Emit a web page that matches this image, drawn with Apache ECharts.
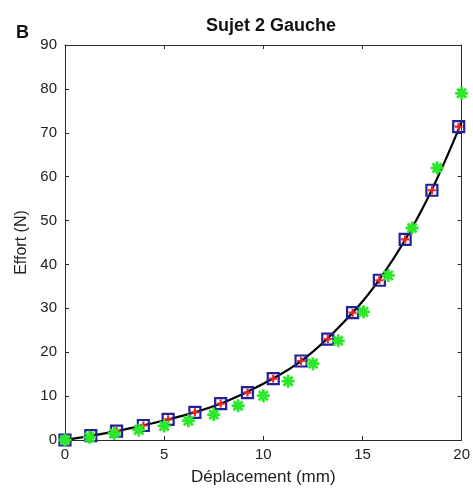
<!DOCTYPE html>
<html>
<head>
<meta charset="utf-8">
<script src="https://cdn.jsdelivr.net/npm/echarts@6/dist/echarts.min.js"></script>
<style>
html,body{margin:0;padding:0;background:#fff;}
#c{width:473px;height:491px;}
</style>
</head>
<body>
<div id="c"></div>
<script>
var xTicks = [0, 5, 10, 15, 20];
var yTicks = [0, 10, 20, 30, 40, 50, 60, 70, 80, 90];

var squareX = [0, 1.3, 2.6, 3.95, 5.2, 6.55, 7.85, 9.2, 10.5, 11.9, 13.25, 14.5, 15.85, 17.15, 18.5, 19.85];
var squareY = [0, 1.0, 2.0, 3.3, 4.7, 6.3, 8.3, 10.8, 14, 18, 23, 29, 36.4, 45.7, 56.9, 71.4];

var greenX = [0, 1.24, 2.48, 3.72, 5.0, 6.22, 7.5, 8.73, 10.0, 11.25, 12.5, 13.78, 15.05, 16.3, 17.5, 18.76, 20];
var greenY = [0, 0.6, 1.5, 2.3, 3.2, 4.4, 5.8, 7.8, 10.1, 13.4, 17.4, 22.6, 29.2, 37.5, 48.3, 62, 79];

var curveX = [0, 2, 4, 6, 8, 10, 12, 14, 16, 18, 20];
var curveY = [0, 1.5, 3.4, 5.6, 8.55, 12.8, 18.3, 26.6, 37.5, 52.5, 72.5];

function pairs(xs, ys) { return xs.map(function (x, i) { return [x, ys[i]]; }); }

var FONT = '"Liberation Sans", Arial, sans-serif';
var AX = '#2a2a2a';

var chart = echarts.init(document.getElementById('c'), null, {renderer: 'canvas'});
var baseX = {
  type: 'value', min: xTicks[0], max: xTicks[xTicks.length - 1], interval: 5,
  axisLine: {show: true, onZero: false, lineStyle: {color: AX, width: 1}},
  axisTick: {show: true, inside: true, length: 4, lineStyle: {color: AX}},
  splitLine: {show: false}
};
var baseY = {
  type: 'value', min: yTicks[0], max: yTicks[yTicks.length - 1], interval: 10,
  axisLine: {show: true, onZero: false, lineStyle: {color: AX, width: 1}},
  axisTick: {show: true, inside: true, length: 4, lineStyle: {color: AX}},
  splitLine: {show: false}
};

chart.setOption({
  animation: false,
  backgroundColor: '#fff',
  title: [{
    text: 'Sujet 2 Gauche', left: 266, top: 12, textAlign: 'center',
    textStyle: {fontFamily: FONT, fontSize: 18, fontWeight: 'bold', color: '#111'}
  }, {
    text: 'B', left: 11, top: 19,
    textStyle: {fontFamily: FONT, fontSize: 18, fontWeight: 'bold', color: '#111'}
  }],
  grid: {left: 65, right: 5, top: 45, bottom: 50, containLabel: false},
  xAxis: [
    Object.assign({}, baseX, {
      position: 'bottom',
      name: 'Déplacement (mm)', nameLocation: 'middle', nameGap: 29,
      nameTextStyle: {fontFamily: FONT, fontSize: 17, color: '#222'},
      axisLabel: {show: true, margin: 7, fontFamily: FONT, fontSize: 15, color: '#222'}
    }),
    Object.assign({}, baseX, {position: 'top', axisLabel: {show: false}})
  ],
  yAxis: [
    Object.assign({}, baseY, {
      position: 'left',
      name: 'Effort (N)', nameLocation: 'middle', nameGap: 30,
      nameTextStyle: {fontFamily: FONT, fontSize: 16, color: '#222'},
      axisLabel: {show: true, margin: 8, fontFamily: FONT, fontSize: 15, color: '#222'}
    }),
    Object.assign({}, baseY, {position: 'right', axisLabel: {show: false}})
  ],
  series: [
    {
      type: 'line', data: pairs(curveX, curveY), smooth: 0.4, showSymbol: false,
      lineStyle: {color: '#000', width: 2.2}, z: 2
    },
    {
      type: 'scatter', data: pairs(squareX, squareY), symbol: 'rect', symbolSize: 11,
      itemStyle: {color: 'rgba(0,0,0,0)', borderColor: '#23209a', borderWidth: 2.2, opacity: 1}, z: 3
    },
    {
      type: 'scatter', data: pairs(squareX, squareY),
      symbol: 'path://M5,0L5,10M0,5L10,5', symbolSize: 8,
      itemStyle: {color: 'rgba(0,0,0,0)', borderColor: '#e8242c', borderWidth: 2.2, opacity: 1}, z: 4
    },
    {
      type: 'scatter', data: pairs(greenX, greenY),
      symbol: 'path://M10,0L10,20M0,10L20,10M3,3L17,17M3,17L17,3', symbolSize: 13,
      itemStyle: {color: 'rgba(0,0,0,0)', borderColor: '#2be82b', borderWidth: 2.8, opacity: 1}, z: 5
    }
  ]
});
</script>
</body>
</html>
